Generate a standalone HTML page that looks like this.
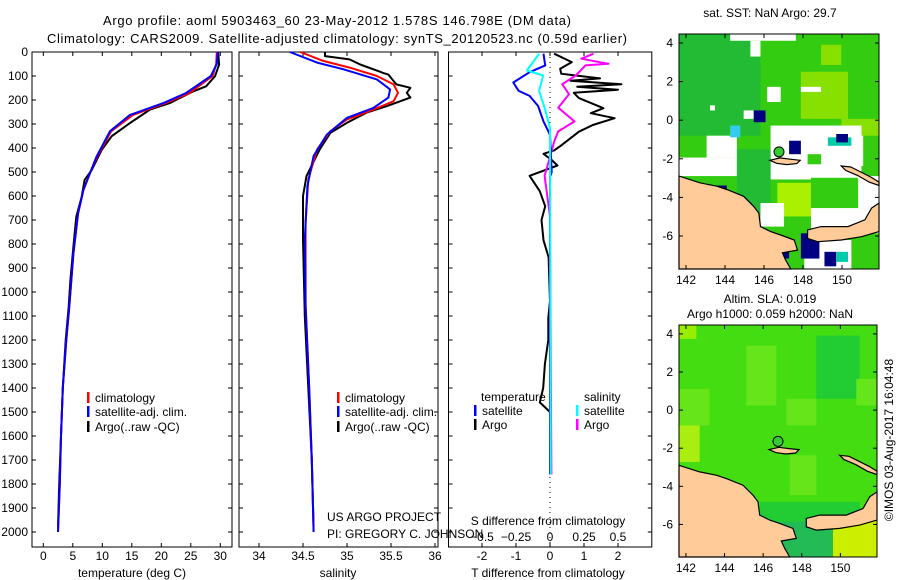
<!DOCTYPE html>
<html><head><meta charset="utf-8"><style>
body{margin:0;background:#fff;}
svg{display:block;font-family:"Liberation Sans",Arial,sans-serif;}
text{fill:#000;}
</style></head><body>
<svg id="chart" width="900" height="580" viewBox="0 0 900 580">
<text x="337" y="25" font-size="13" text-anchor="middle" textLength="468">Argo profile: aoml 5903463_60 23-May-2012 1.578S 146.798E (DM data)</text>
<text x="337" y="43" font-size="13" text-anchor="middle" textLength="580">Climatology: CARS2009. Satellite-adjusted climatology: synTS_20120523.nc (0.59d earlier)</text>
<g id="p1"></g>
<g id="p2"></g>
<g id="p3"></g>
<g id="m1"></g>
<g id="m2"></g>
<text x="770" y="17" font-size="12" text-anchor="middle">sat. SST: NaN Argo: 29.7</text>
<text x="770" y="303" font-size="12" text-anchor="middle">Altim. SLA: 0.019</text>
<text x="770" y="318" font-size="12" text-anchor="middle">Argo h1000: 0.059 h2000: NaN</text>
<text transform="translate(893,440) rotate(-90)" font-size="12" text-anchor="middle">©IMOS 03-Aug-2017 16:04:48</text>
<text x="327" y="521" font-size="12">US ARGO PROJECT</text>
<text x="327" y="538" font-size="12">PI: GREGORY C. JOHNSON</text>
</svg>
<script>
// ---- data ----
const depthTempArgo=[0,53,101,143,164,212,240,296,351,408,492,533,603,686,811,950,1061,1200,1400,1600,1800,1980];
const tempArgo=[29.65,29.8,29.1,27.6,25.4,21.5,18.1,14.7,11.6,9.9,8.2,7.0,6.5,5.6,5.1,4.6,4.3,3.8,3.3,3.0,2.7,2.5];
const depthClim=[0,50,100,171,212,262,330,437,506,575,672,839,1061,1200,1400,1600,1800,2000];
const tempClim=[29.4,29.3,28.7,24.8,20.8,15.2,11.5,9.1,7.9,6.8,5.9,5.1,4.4,3.9,3.3,3.0,2.8,2.5];
const tempSat=[29.6,29.4,28.4,24.2,20.4,14.7,11.3,9.0,7.9,6.8,5.9,5.1,4.4,3.9,3.3,3.0,2.8,2.5];
const depthSalArgo=[0,17,31,52,87,94,135,149,170,190,226,253,295,337,406,517,600,781,1100,1400,1700,1980];
const salArgo=[34.75,34.75,35.03,35.15,35.41,35.47,35.56,35.72,35.68,35.72,35.45,35.22,35.0,34.81,34.69,34.54,34.5,34.5,34.52,34.56,34.6,34.62];
const depthSalClim=[0,37,65,100,135,170,205,246,281,330,406,531,711,1058,1400,1700,2000];
const salClim=[34.47,34.73,35.03,35.34,35.53,35.58,35.53,35.26,35.0,34.81,34.66,34.56,34.53,34.53,34.57,34.6,34.62];
const depthSalSat=[0,44,72,114,156,190,233,274,344,433,558,781,1058,1400,1700,2000];
const salSat=[34.35,34.66,34.96,35.34,35.49,35.47,35.3,35.0,34.77,34.62,34.55,34.52,34.53,34.57,34.6,34.62];
const depthDTArgo=[7,42,70,91,110,120,134,145,157,170,192,234,255,276,304,332,389,410,424,450,473,516,580,643,700,784,855,1038,1108,1200,1300,1400,1460,1500,1760];
const diffTArgo=[0.12,0.64,0.3,0.33,1.47,0.6,2.1,0.8,2.0,0.7,0.85,1.57,1.2,1.9,1.26,0.85,0.33,0.12,-0.19,0.05,0.22,-0.6,-0.3,-0.14,-0.25,-0.19,-0.04,0,-0.05,-0.05,-0.15,-0.2,-0.3,0,0];
const depthDTSat=[7,56,84,127,162,183,225,289,345,500,520,1760];
const diffTSat=[-0.19,-0.14,-0.6,-1.08,-0.92,-0.6,-0.35,-0.19,0,0.05,0,0];
const depthDSSat=[7,77,98,162,232,317,1760];
const diffSSat=[-0.08,-0.17,-0.05,-0.08,-0.04,0,0.005];
const depthDSArgo=[7,28,49,56,98,134,176,232,289,331,374,458,515,685,1760];
const diffSArgo=[0.32,0.23,0.43,0.26,0.19,0.09,0.14,0.06,0.18,0.06,0.03,-0.01,-0.04,0.0,0.01];
const depthTicks=[0,100,200,300,400,500,600,700,800,900,1000,1100,1200,1300,1400,1500,1600,1700,1800,1900,2000];
const tempTicks=[0,5,10,15,20,25,30];
const salTicks=[34,34.5,35,35.5,36];
const dTTicks=[-2,-1,0,1,2];
const dSTicks=[-0.5,-0.25,0,0.25,0.5];
const lonTicks=[142,144,146,148,150];
const latTicks=[4,2,0,-2,-4,-6];

const NS="http://www.w3.org/2000/svg";
function mk(parent,tag,attrs,txt){const e=document.createElementNS(NS,tag);for(const k in attrs)e.setAttribute(k,attrs[k]);if(txt!==undefined)e.textContent=txt;parent.appendChild(e);return e;}
const TOP=52,BOT=547;
const yD=d=>TOP+d*0.24;
function frame(g,x0,x1,name){const r=mk(g,'rect',{x:x0,y:TOP,width:x1-x0,height:BOT-TOP,fill:'none',stroke:'#000','stroke-width':1});

}
function line(g,xs,ds,fx,color,name){let p='';for(let i=0;i<xs.length;i++)p+=(i?'L':'M')+fx(xs[i]).toFixed(1)+' '+yD(ds[i]).toFixed(1);
const e=mk(g,'path',{d:p,fill:'none',stroke:color,'stroke-width':2,'stroke-linejoin':'round'});

}
function depthTicksFn(g,x0,x1,labels){depthTicks.forEach(d=>{const y=yD(d);mk(g,'line',{x1:x0,y1:y,x2:x0+4,y2:y,stroke:'#000'});mk(g,'line',{x1:x1-4,y1:y,x2:x1,y2:y,stroke:'#000'});
if(labels){const t=mk(g,'text',{x:28,y:y+4,'font-size':12,'text-anchor':'end'},String(d));

}});}
function xTicks(g,vals,fx,labelY,top,bottom){vals.forEach(v=>{const x=fx(v);if(bottom)mk(g,'line',{x1:x,y1:BOT,x2:x,y2:BOT-4,stroke:'#000'});if(top)mk(g,'line',{x1:x,y1:TOP,x2:x,y2:TOP+4,stroke:'#000'});
if(labelY){const t=mk(g,'text',{x:x,y:labelY,'font-size':12,'text-anchor':'middle'},String(v));

}});}
function legend(g,x,y,color,label){mk(g,'rect',{x:x,y:y-10,width:2.5,height:11,fill:color});
const t=mk(g,'text',{x:x+8,y:y,'font-size':12},label);

}

// panel 1
const p1=document.getElementById('p1');
const xT=t=>43.3+t*5.9;
frame(p1,32,232,'temperature-axes');
depthTicksFn(p1,32,232,true);
xTicks(p1,tempTicks,xT,560,true,true);
mk(p1,'text',{x:132,y:577,'font-size':12,'text-anchor':'middle'},'temperature (deg C)');
line(p1,tempArgo,depthTempArgo,xT,'#000','argo-temperature-line');
line(p1,tempClim,depthClim,xT,'#f00','climatology-temperature-line');
line(p1,tempSat,depthClim,xT,'#00f','satellite-temperature-line');
legend(p1,87,402,'#f00','climatology');legend(p1,87,416,'#00f','satellite-adj. clim.');legend(p1,87,431,'#000','Argo(..raw -QC)');

// panel 2
const p2=document.getElementById('p2');
const xS=s=>259+(s-34)*88;
frame(p2,239,438,'salinity-axes');
depthTicksFn(p2,239,438,false);
xTicks(p2,salTicks,xS,560,true,true);
mk(p2,'text',{x:338,y:577,'font-size':12,'text-anchor':'middle'},'salinity');
line(p2,salArgo,depthSalArgo,xS,'#000','argo-salinity-line');
line(p2,salClim,depthSalClim,xS,'#f00','climatology-salinity-line');
line(p2,salSat,depthSalSat,xS,'#00f','satellite-salinity-line');
legend(p2,337,402,'#f00','climatology');legend(p2,337,416,'#00f','satellite-adj. clim.');legend(p2,337,431,'#000','Argo(..raw -QC)');

// panel 3
const p3=document.getElementById('p3');
const xDT=t=>550+t*34, xDS=s=>550+s*136;
frame(p3,448.5,651.8,'difference-axes');
depthTicksFn(p3,448.5,651.8,false);
xTicks(p3,dTTicks,xDT,560,true,true);
dSTicks.forEach(v=>{const t=mk(p3,'text',{x:xDS(v),y:541,'font-size':12,'text-anchor':'middle'},String(v).replace('-','\u2212'));

});
mk(p3,'line',{x1:550,y1:TOP,x2:550,y2:BOT,stroke:'#000','stroke-dasharray':'1 4'});
mk(p3,'text',{x:548,y:525,'font-size':12,'text-anchor':'middle'},'S difference from climatology');
mk(p3,'text',{x:548,y:577,'font-size':12,'text-anchor':'middle'},'T difference from climatology');
line(p3,diffTArgo,depthDTArgo,xDT,'#000','argo-t-diff-line');
line(p3,diffSArgo,depthDSArgo,xDS,'#f0f','argo-s-diff-line');
line(p3,diffTSat,depthDTSat,xDT,'#00f','satellite-t-diff-line');
line(p3,diffSSat,depthDSSat,xDS,'#0ff','satellite-s-diff-line');
mk(p3,'text',{x:481,y:401,'font-size':12},'temperature');
mk(p3,'text',{x:584,y:401,'font-size':12},'salinity');
legend(p3,474,415,'#00f','satellite');legend(p3,474,429,'#000','Argo');
legend(p3,576,415,'#0ff','satellite');legend(p3,576,429,'#f0f','Argo');

// maps (zoom-box coords: 594 x 698 box)
const mainland=[[0,422],[62,442],[112,452],[142,462],[192,482],[222,512],[237,532],[242,572],[272,587],[302,597],[342,612],[352,642],[307,650],[317,672],[332,698],[0,698]];
const peninsula=[[382,582],[422,572],[502,572],[552,552],[572,517],[594,502],[594,587],[542,602],[482,612],[412,617],[382,607]];
const island1=[[270,375],[300,368],[330,372],[360,375],[350,385],[320,388],[290,384]];
const island2=[[482,392],[510,395],[540,410],[570,425],[594,440],[594,450],[565,440],[530,420],[495,405]];
function drawMap(id,ox,oy,w,h,rects,base,titleY,name){
 const g=document.getElementById(id);const sx=w/594,sy=h/698;
 const X=z=>ox+(z-58)*sx,Y=z=>oy+(z-28)*sy;
 const bg=mk(g,'rect',{x:ox,y:oy,width:w,height:h,fill:base});
 
 
 rects.forEach(r=>{mk(g,'rect',{x:X(r[0]),y:Y(r[1]),width:(r[2]-r[0])*sx,height:(r[3]-r[1])*sy,fill:r[4]});});
 [mainland,peninsula,island1,island2].forEach((poly,i)=>{const pts=poly.map(p=>(ox+p[0]*sx).toFixed(1)+','+(oy+p[1]*sy).toFixed(1)).join(' ');
  const e=mk(g,'polygon',{points:pts,fill:'#fc9',stroke:'#000','stroke-width':1.2});
  
  });
 const c=mk(g,'circle',{cx:ox+297*sx,cy:oy+350*sy,r:5,fill:'#3c3',stroke:'#000','stroke-width':1});
 
 
 const fr=mk(g,'rect',{x:ox,y:oy,width:w,height:h,fill:'none',stroke:'#000'});
 
 
 const lonX=l=>ox+(7+(l-142)*19.5)*(w/200), latY=l=>oy+(h*(9+(4-l)*19.3)/235);
 lonTicks.forEach(l=>{const x=lonX(l);mk(g,'line',{x1:x,y1:oy+h,x2:x,y2:oy+h-4,stroke:'#000'});mk(g,'line',{x1:x,y1:oy,x2:x,y2:oy+4,stroke:'#000'});
  const t=mk(g,'text',{x:x,y:oy+h+15,'font-size':12,'text-anchor':'middle'},String(l));
  
  });
 latTicks.forEach(l=>{const y=latY(l);mk(g,'line',{x1:ox,y1:y,x2:ox+4,y2:y,stroke:'#000'});mk(g,'line',{x1:ox+w-4,y1:y,x2:ox+w,y2:y,stroke:'#000'});
  const t=mk(g,'text',{x:ox-6,y:y+4,'font-size':12,'text-anchor':'end'},String(l));
  
  });
}
const W='#fff',N='#000080',G2='#22bb33',LG='#88e000',YG='#aaf000',TL='#00ccaa';
const sstRects=[
[58,28,300,330,G2],[400,28,652,200,'#33cc11'],[420,140,560,280,LG],[480,60,540,120,LG],[540,280,652,330,LG],
[210,28,405,48,W],[270,48,300,95,W],[320,185,360,230,W],[420,185,480,200,W],[150,240,165,255,W],[250,255,280,280,W],
[140,330,230,395,W],[58,395,230,450,W],[330,300,600,460,W],[440,385,480,415,'#33cc11'],[580,330,605,420,W],
[280,255,315,290,N],[385,345,420,385,N],[500,335,570,360,TL],[525,325,560,350,N],[210,300,240,335,'#33ccee'],[165,478,200,500,N],
[230,370,330,560,G2],[350,470,450,570,YG],[450,455,590,545,'#33cc11'],
[300,530,370,600,W],[450,545,652,620,W],[590,450,652,545,W],[430,640,600,726,W],[570,630,652,726,'#33cc11'],
[420,620,475,695,N],[490,675,525,718,N],[525,675,560,705,TL],[365,675,385,695,N]];
const slaRects=[
[58,28,110,70,'#99ee00'],[470,60,600,250,'#22cc33'],[60,220,150,330,'#66e61a'],[260,90,350,270,'#66e61a'],[380,250,470,330,'#66e61a'],
[390,420,470,540,'#66e61a'],[590,190,652,270,'#66e61a'],[58,330,120,440,'#aaee11'],[300,560,600,700,'#22cc33'],[360,620,520,726,'#22bb55'],
[520,600,652,726,'#ccee00']];
drawMap('m1',679,34,200,235,sstRects,'#33cc11',0,'sst-map');
drawMap('m2',679,325,198,232,slaRects,'#44dd11',0,'sla-map');
</script>
</body></html>
